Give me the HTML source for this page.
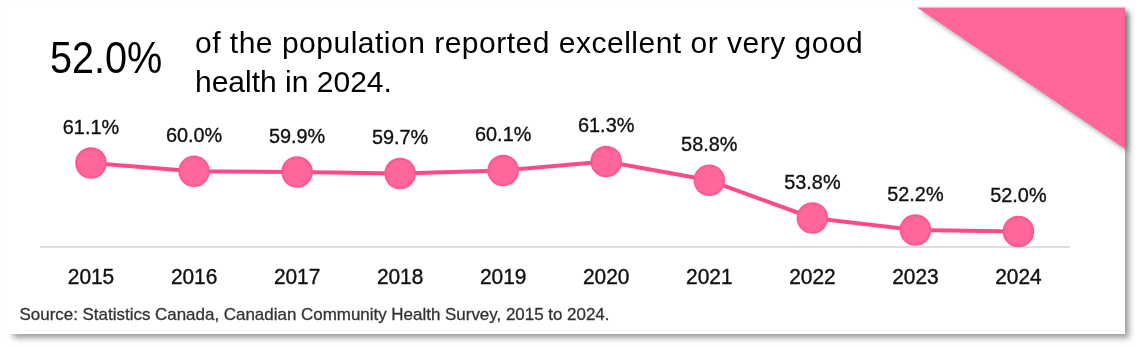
<!DOCTYPE html>
<html><head><meta charset="utf-8">
<style>
html,body{margin:0;padding:0;background:#fff;width:1140px;height:348px;overflow:hidden}
*{font-family:"Liberation Sans",sans-serif}
.card{position:absolute;left:7px;top:7px;width:1118px;height:326.5px;background:#fff;box-shadow:5px 5px 6px -1px rgba(0,0,0,0.38), 0 0 4px rgba(0,0,0,0.018)}
svg{position:absolute;left:0;top:0;will-change:transform}
.big{position:absolute;left:50px;top:36px;font-size:44px;line-height:1;color:#000;white-space:nowrap;transform-origin:0 0;transform:scaleX(0.9)}
.sub{position:absolute;will-change:transform;left:195px;font-size:30px;line-height:1;color:#000;white-space:nowrap}
</style></head><body>
<div class="card"></div>
<svg width="1140" height="348" viewBox="0 0 1140 348">
<defs>
<filter id="ts" x="-20%" y="-20%" width="150%" height="150%"><feDropShadow dx="3" dy="3" stdDeviation="2.8" flood-color="#1d4a3c" flood-opacity="0.45"/></filter>
</defs>
<polygon points="917,7.5 1125,7.5 1125,149" fill="#ff6699" filter="url(#ts)"/>
<line x1="40" y1="247" x2="1070" y2="247" stroke="#dedede" stroke-width="2"/>
<polyline points="91.0,163.0 194.1,171.3 297.1,172.0 400.1,173.5 503.2,170.5 606.2,161.5 709.3,180.3 812.4,218.0 915.4,230.0 1018.4,231.5" fill="none" stroke="#ff4a88" stroke-width="4" stroke-linejoin="round"/>
<g fill="#ff6699" stroke="#ff5890" stroke-width="2">
<circle cx="91.0" cy="163.0" r="14.8"/>
<circle cx="194.1" cy="171.3" r="14.8"/>
<circle cx="297.1" cy="172.0" r="14.8"/>
<circle cx="400.1" cy="173.5" r="14.8"/>
<circle cx="503.2" cy="170.5" r="14.8"/>
<circle cx="606.2" cy="161.5" r="14.8"/>
<circle cx="709.3" cy="180.3" r="14.8"/>
<circle cx="812.4" cy="218.0" r="14.8"/>
<circle cx="915.4" cy="230.0" r="14.8"/>
<circle cx="1018.4" cy="231.5" r="14.8"/>
</g>
<g font-family="Liberation Sans" font-size="20.5" fill="#111" stroke="#111" stroke-width="0.35" text-anchor="middle">
<text transform="translate(91.0 133.5) scale(0.97 1)">61.1%</text>
<text transform="translate(194.1 141.8) scale(0.97 1)">60.0%</text>
<text transform="translate(297.1 142.5) scale(0.97 1)">59.9%</text>
<text transform="translate(400.1 144.0) scale(0.97 1)">59.7%</text>
<text transform="translate(503.2 141.0) scale(0.97 1)">60.1%</text>
<text transform="translate(606.2 132.0) scale(0.97 1)">61.3%</text>
<text transform="translate(709.3 150.8) scale(0.97 1)">58.8%</text>
<text transform="translate(812.4 188.5) scale(0.97 1)">53.8%</text>
<text transform="translate(915.4 200.5) scale(0.97 1)">52.2%</text>
<text transform="translate(1018.4 202.0) scale(0.97 1)">52.0%</text>
</g>
<g font-family="Liberation Sans" font-size="22" fill="#111" stroke="#111" stroke-width="0.4" text-anchor="middle">
<text transform="translate(91.0 284) scale(0.95 1)">2015</text>
<text transform="translate(194.1 284) scale(0.95 1)">2016</text>
<text transform="translate(297.1 284) scale(0.95 1)">2017</text>
<text transform="translate(400.1 284) scale(0.95 1)">2018</text>
<text transform="translate(503.2 284) scale(0.95 1)">2019</text>
<text transform="translate(606.2 284) scale(0.95 1)">2020</text>
<text transform="translate(709.3 284) scale(0.95 1)">2021</text>
<text transform="translate(812.4 284) scale(0.95 1)">2022</text>
<text transform="translate(915.4 284) scale(0.95 1)">2023</text>
<text transform="translate(1018.4 284) scale(0.95 1)">2024</text>
</g>
<text x="19.5" y="320" font-family="Liberation Sans" font-size="16.95" fill="#333" stroke="#333" stroke-width="0.3">Source: Statistics Canada, Canadian Community Health Survey, 2015 to 2024.</text>
</svg>
<div class="big">52.0%</div>
<div class="sub" style="top:28px;letter-spacing:0.5px">of the population reported excellent or very good</div>
<div class="sub" style="top:67px">health in 2024.</div>
</body></html>
